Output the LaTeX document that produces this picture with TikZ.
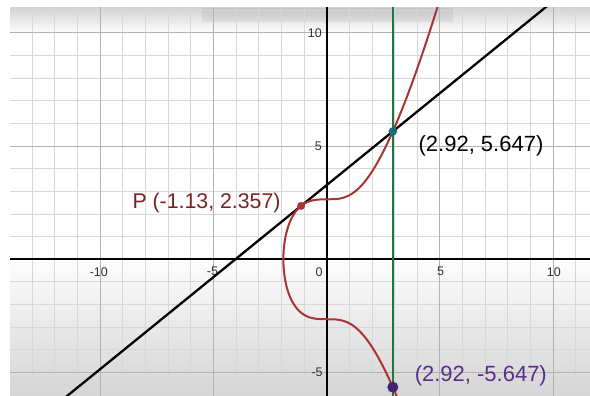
\documentclass[tikz,border=0pt]{standalone}
\usepackage{fontspec}
\setmainfont{Liberation Sans}
\usetikzlibrary{calc}
\definecolor{curvered}{RGB}{170,52,52}
\definecolor{plabel}{RGB}{120,35,40}
\definecolor{vgreen}{RGB}{30,120,60}
\definecolor{tealdot}{RGB}{25,110,125}
\definecolor{purpledot}{RGB}{70,35,120}
\definecolor{purplelbl}{RGB}{90,45,140}
\definecolor{ticklabel}{RGB}{50,50,50}
\definecolor{minorgray}{RGB}{215,215,215}
\definecolor{majorgray}{RGB}{178,178,178}
\definecolor{bandgray}{RGB}{212,212,212}
\begin{document}
\begin{tikzpicture}[x=22.65pt,y=22.65pt,
  minorgrid/.style={draw=minorgray, line width=0.9pt},
  majorgrid/.style={draw=majorgray, line width=1pt},
  axisline/.style={draw=black, line width=1.8pt},
  ticklbl/.style={text=ticklabel, font=\fontsize{12.5}{12.5}\selectfont, inner sep=0pt},
  ptlbl/.style={font=\fontsize{22}{22}\selectfont, inner sep=0pt},
  dotnode/.style={circle, inner sep=0pt, minimum size=#1},
  tangentline/.style={draw=black, line width=2.3pt},
  vertline/.style={draw=vgreen, line width=2pt},
  curveline/.style={draw=curvered, line width=2pt}
]
\useasboundingbox (-14.424,-6.035) rectangle (11.625,11.448);
\fill[white] (-14.424,-6.035) rectangle (11.625,11.448);
\begin{scope}
\clip (-13.98,-6.035) rectangle (11.625,11.095);
% background shading
\shade[top color=white, bottom color=bandgray] (-14,-6.1) rectangle (11.7,0.3);
\shade[top color=bandgray, bottom color=white] (-14,9.95) rectangle (11.7,11.1);
\fill[black, opacity=0.06] (-5.50,10.477) rectangle (5.58,11.1);
% grid
\foreach \x in {-13,...,11} {\draw[minorgrid] (\x,-6.1) -- (\x,11.2);}
\foreach \y in {-6,...,11} {\draw[minorgrid] (-14,\y) -- (11.7,\y);}
\foreach \x in {-10,-5,5,10} {\draw[majorgrid] (\x,-6.1) -- (\x,11.2);}
\foreach \y in {-5,5,10} {\draw[majorgrid] (-14,\y) -- (11.7,\y);}
% axes
\coordinate (XA) at (-14,0);
\coordinate (XB) at (11.7,0);
\coordinate (YA) at (0,-6.1);
\coordinate (YB) at (0,11.2);
\draw[axisline] (XA) -- (XB);
\draw[axisline] (YA) -- (YB);
% tick labels
\node[ticklbl] (tx1) at (-10.06,-0.55) {-10};
\node[ticklbl] (tx2) at (-5.04,-0.55) {-5};
\node[ticklbl] (tx3) at (-0.33,-0.55) {0};
\node[ticklbl] (tx4) at (5.03,-0.55) {5};
\node[ticklbl] (tx5) at (10.03,-0.55) {10};
\node[ticklbl, anchor=east] (ty1) at (-0.21,9.98) {10};
\node[ticklbl, anchor=east] (ty2) at (-0.21,5.0) {5};
\node[ticklbl, anchor=east] (ty3) at (-0.17,-5.0) {-5};
% key points
\coordinate (Pc) at (-1.13,2.357);
\coordinate (Qc) at (2.92,5.647);
\coordinate (Rc) at (2.92,-5.647);
% tangent line through P and Q
\coordinate (TA) at ($(Pc)!-2.7!(Qc)$);
\coordinate (TB) at ($(Pc)!3.5!(Qc)$);
\draw[tangentline] (TA) -- (TB);
% vertical line x = 2.92
\coordinate (G1) at (2.92,-6.2);
\coordinate (G2) at (2.92,11.2);
\draw[vertline] (G1) -- (G2);
% curve y^2 = x^3 + 7
\draw[curveline] plot[variable=\t, domain=-6.3:11.3, samples=1761, smooth]
  ({sign(\t*\t-7)*pow(abs(\t*\t-7),1/3)}, \t);
\end{scope}
% dots
\node[dotnode=8pt, fill=curvered] (P) at (Pc) {};
\node[dotnode=8.5pt, fill=tealdot] (Q) at (Qc) {};
\node[dotnode=11pt, fill=purpledot] (R) at (Rc) {};
% labels
\node[ptlbl, text=plabel, anchor=base east, font=\fontsize{21.3}{21.3}\selectfont] (Plbl) at (-2.03,2.252) {P (-1.13, 2.357)};
\node[ptlbl, text=black, anchor=base west] (Qlbl) at (4.05,4.751) {(2.92, 5.647)};
\node[ptlbl, text=purplelbl, anchor=base west] (Rlbl) at (3.88,-5.404) {(2.92, -5.647)};
\end{tikzpicture}
\end{document}
